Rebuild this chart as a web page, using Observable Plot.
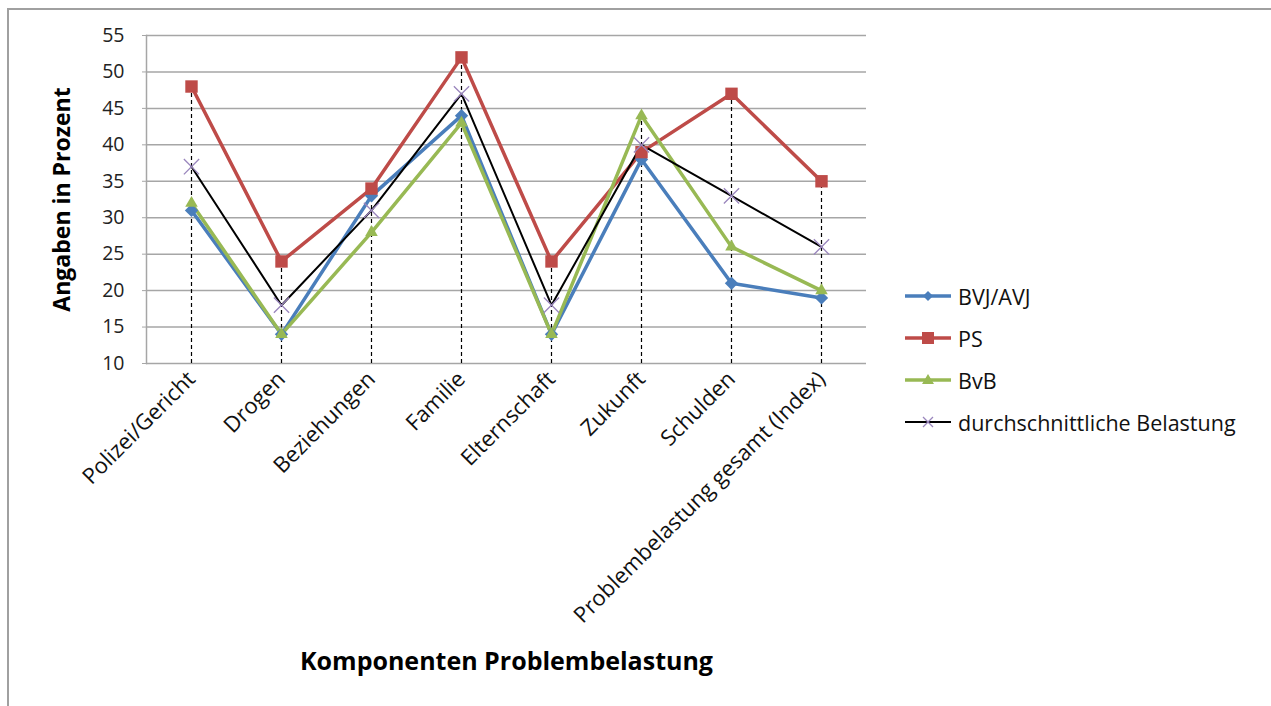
<!DOCTYPE html>
<html>
<head>
<meta charset="utf-8">
<script src="https://cdn.jsdelivr.net/npm/d3@7"></script>
<script src="https://cdn.jsdelivr.net/npm/@observablehq/plot@0.6"></script>
<style>
  html, body { margin: 0; padding: 0; background: #fff; }
  #wrap { position: relative; width: 1271px; height: 706px; overflow: hidden; font-family: "Open Sans", Lato, sans-serif; }
  #border { position: absolute; left: 7px; top: 8px; width: 1270px; height: 710px; border-left: 2px solid #a0a0a0; border-top: 2px solid #a0a0a0; box-sizing: border-box; z-index: 3; pointer-events: none; }
  #chart { position: absolute; left: 0; top: 0; z-index: 1; }
  #legend { position: absolute; left: 903px; top: 275px; z-index: 2; }
  .item { display: flex; align-items: center; height: 42px; font-size: 21.5px; color: #111; }
  .item svg { margin-right: 5px; }
</style>
</head>
<body>
<div id="wrap">
  <div id="chart"></div>
  <div id="legend"></div>
  <div id="border"></div>
</div>
<script>
const categories = ["Polizei/Gericht", "Drogen", "Beziehungen", "Familie", "Elternschaft", "Zukunft", "Schulden", "Problembelastung gesamt (Index)"];
const seriesNames = ["BVJ/AVJ", "PS", "BvB", "durchschnittliche Belastung"];
const bvjAvj = [31, 14, 33, 44, 14, 38, 21, 19];
const ps = [48, 24, 34, 52, 24, 39, 47, 35];
const bvb = [32, 14, 28, 43, 14, 44, 26, 20];
const durchschnitt = [37, 18, 31, 47, 18, 40, 33, 26];
const yTicks = [10, 15, 20, 25, 30, 35, 40, 45, 50, 55];
const yTitle = "Angaben in Prozent";
const xTitle = "Komponenten Problembelastung";

const colors = ["#4a7ebb", "#be4b48", "#98b954", "#000000"];
const values = [bvjAvj, ps, bvb, durchschnitt];

const rows = [];
seriesNames.forEach((s, i) => categories.forEach((c, j) => rows.push({series: s, cat: c, value: values[i][j]})));
const drops = categories.map((c, j) => ({cat: c, top: Math.max(...values.map(v => v[j]))}));

const marks = [
  Plot.ruleY(yTicks, {stroke: "#a6a6a6", strokeWidth: 1.5}),
  Plot.frame({anchor: "left", stroke: "#a6a6a6", strokeWidth: 1.5}),
  Plot.axisY({ticks: yTicks, tickSize: 4, tickPadding: 18, fontSize: 19.5, label: null, stroke: "#a6a6a6", color: "#222"}),
  Plot.axisX({tickRotate: -45, tickSize: 0, tickPadding: 12, fontSize: 22, label: null, color: "#111"}),
  Plot.ruleX(drops, {x: "cat", y1: 10, y2: "top", stroke: "#000", strokeDasharray: "4,3", strokeWidth: 1.2}),
];
seriesNames.forEach((s, i) => {
  const d = rows.filter(r => r.series === s);
  marks.push(Plot.line(d, {x: "cat", y: "value", stroke: colors[i], strokeWidth: i === 3 ? 2 : 3.5}));
});
seriesNames.forEach((s, i) => {
  const d = rows.filter(r => r.series === s);
  if (i === 3) {
    marks.push(Plot.dot(d, {x: "cat", y: "value", symbol: "times", r: 7, stroke: "#9a86bd", strokeWidth: 1.3}));
  } else if (i === 1) {
    marks.push(Plot.dot(d, {x: "cat", y: "value", symbol: "square", r: 7, fill: colors[i], stroke: "none"}));
  } else {
    marks.push(Plot.dot(d, {x: "cat", y: "value", symbol: i === 0 ? "diamond2" : "triangle2", r: 6, fill: colors[i], stroke: "none"}));
  }
});
marks.push(Plot.text([yTitle], {frameAnchor: "left", textAnchor: "middle", rotate: -90, dx: -84, fontSize: 23, fontWeight: "bold", fill: "#000"}));
marks.push(Plot.text([xTitle], {frameAnchor: "bottom", textAnchor: "middle", dy: 306, fontSize: 25, fontWeight: "bold", fill: "#000"}));

const chart = Plot.plot({
  width: 1271,
  height: 706,
  marginLeft: 146,
  marginRight: 405,
  marginTop: 35,
  marginBottom: 343,
  style: {fontFamily: "'Open Sans', Lato, sans-serif", background: "transparent", overflow: "visible"},
  x: {type: "point", domain: categories, padding: 0.5},
  y: {domain: [10, 55]},
  marks
});
document.getElementById("chart").appendChild(chart);

const legend = document.getElementById("legend");
seriesNames.forEach((s, i) => {
  const item = document.createElement("div");
  item.className = "item";
  let marker = "";
  if (i === 0) marker = `<path d="M25,5 L30,10 L25,15 L20,10 Z" fill="${colors[0]}"/>`;
  if (i === 1) marker = `<rect x="19" y="4" width="12" height="12" fill="${colors[1]}"/>`;
  if (i === 2) marker = `<path d="M25,4 L31,14 L19,14 Z" fill="${colors[2]}"/>`;
  if (i === 3) marker = `<path d="M20,5 L30,15 M30,5 L20,15" stroke="#9a86bd" stroke-width="1.3"/>`;
  item.innerHTML = `<svg width="50" height="20"><line x1="2" x2="48" y1="10" y2="10" stroke="${colors[i]}" stroke-width="${i === 3 ? 2 : 3.5}"/>${marker}</svg><span>${s}</span>`;
  legend.appendChild(item);
});
</script>
</body>
</html>
